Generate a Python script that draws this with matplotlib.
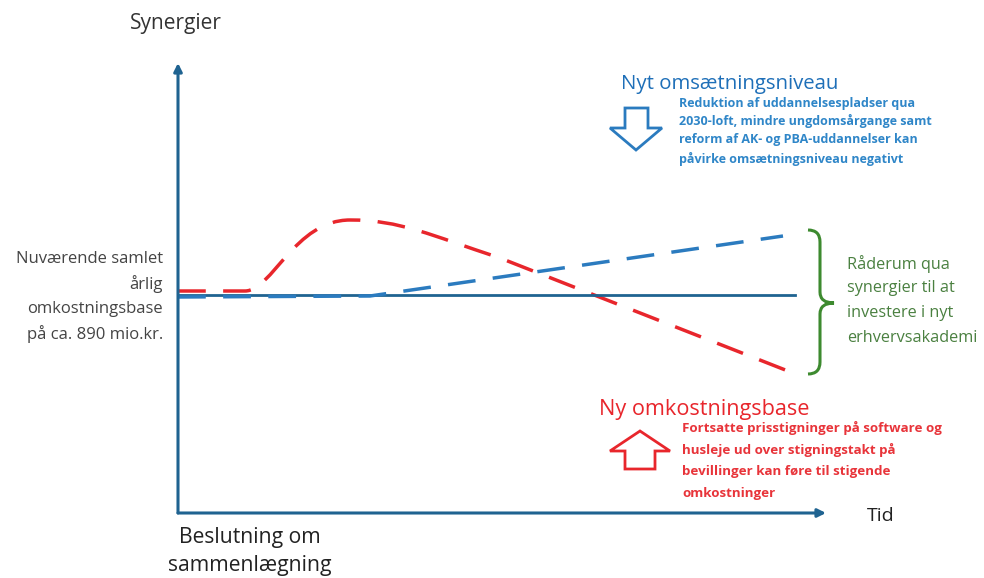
import matplotlib.pyplot as plt
from matplotlib.path import Path
from matplotlib.patches import PathPatch, Polygon

# canvas in pixel units (y grows downwards)
W, H = 984, 578

# axes of the diagram
origin = (178, 513)
y_axis_top = 63
x_axis_end = 826
baseline_y = 295
baseline_end = 795

# blue dashed line: new turnover level
blue_x = [178, 370, 783]
blue_y = [297, 296, 236]

# red dashed curve: new cost base (bezier control points)
red_pts = [(178, 291), (245, 291),
           (272, 291), (295, 220), (350, 220),
           (400, 220), (430, 235), (500, 258),
           (793, 373)]
red_codes = [Path.MOVETO, Path.LINETO,
             Path.CURVE4, Path.CURVE4, Path.CURVE4,
             Path.CURVE4, Path.CURVE4, Path.CURVE4,
             Path.LINETO]

left_label = ["Nuværende samlet", "årlig", "omkostningsbase", "på ca. 890 mio.kr."]
blue_title = "Nyt omsætningsniveau"
blue_body = ["Reduktion af uddannelsespladser qua",
             "2030-loft, mindre ungdomsårgange samt",
             "reform af AK- og PBA-uddannelser kan",
             "påvirke omsætningsniveau negativt"]
red_title = "Ny omkostningsbase"
red_body = ["Fortsatte prisstigninger på software og",
            "husleje ud over stigningstakt på",
            "bevillinger kan føre til stigende",
            "omkostninger"]
green_body = ["Råderum qua", "synergier til at", "investere i nyt", "erhvervsakademi"]

AXIS_C = "#1f6391"
BLUE_C = "#2b7bbf"
RED_C = "#e8262c"
GREEN_C = "#3d8a2f"

plt.rcParams['font.family'] = ['Open Sans', 'DejaVu Sans']

fig = plt.figure(figsize=(W / 100, H / 100), dpi=100)
ax = fig.add_axes([0, 0, 1, 1])
ax.set_xlim(0, W)
ax.set_ylim(H, 0)
ax.axis('off')

# axes arrows
ax.annotate('', xy=(origin[0], y_axis_top), xytext=origin,
            arrowprops=dict(arrowstyle='-|>', color=AXIS_C, lw=2.2,
                            mutation_scale=12, shrinkA=0, shrinkB=0))
ax.annotate('', xy=(x_axis_end, origin[1]), xytext=origin,
            arrowprops=dict(arrowstyle='-|>', color=AXIS_C, lw=2.2,
                            mutation_scale=12, shrinkA=0, shrinkB=0))

# current cost base
ax.plot([origin[0], baseline_end], [baseline_y, baseline_y], color=AXIS_C, lw=2)

# dashed curves
ax.plot(blue_x, blue_y, color=BLUE_C, lw=2.5, dashes=(8, 5))
ax.add_patch(PathPatch(Path(red_pts, red_codes), fill=False, edgecolor=RED_C,
                       lw=2.5, linestyle=(0, (8, 5))))

# green curly bracket
br = [(808, 230), (820, 230), (820, 242), (820, 292), (820, 303), (834, 303),
      (820, 303), (820, 314), (820, 362), (820, 374), (808, 374)]
br_codes = [Path.MOVETO, Path.CURVE3, Path.CURVE3, Path.LINETO, Path.CURVE3, Path.CURVE3,
            Path.CURVE3, Path.CURVE3, Path.LINETO, Path.CURVE3, Path.CURVE3]
ax.add_patch(PathPatch(Path(br, br_codes), fill=False, edgecolor=GREEN_C, lw=2.2))

# block arrows
down = [(625, 108), (648, 108), (648, 128), (662, 128), (636, 150), (610, 128), (625, 128)]
ax.add_patch(Polygon(down, closed=True, facecolor='white', edgecolor=BLUE_C, lw=2))
up = [(640, 431), (670, 451), (655, 451), (655, 469), (625, 469), (625, 451), (610, 451)]
ax.add_patch(Polygon(up, closed=True, facecolor='white', edgecolor=RED_C, lw=2))

# texts
ax.text(176, 23, "Synergier", ha='center', va='center', fontsize=15, color='#333333')
for i, s in enumerate(left_label):
    ax.text(163, 259 + i * 25, s, ha='right', va='center', fontsize=12, color='#444444')

ax.text(621, 84, blue_title, ha='left', va='center', fontsize=14.7, color="#1e6fb8")
for i, s in enumerate(blue_body):
    ax.text(679, 103 + i * 18.5, s, ha='left', va='center', fontsize=9,
            color="#2f86c8", fontweight='bold')

ax.text(599, 409, red_title, ha='left', va='center', fontsize=15.6, color=RED_C)
for i, s in enumerate(red_body):
    ax.text(682, 428 + i * 21.7, s, ha='left', va='center', fontsize=9.6,
            color="#e8343a", fontweight='bold')

for i, s in enumerate(green_body):
    ax.text(847, 264 + i * 24.5, s, ha='left', va='center', fontsize=11.7, color="#4a8040")

ax.text(867, 516, "Tid", ha='left', va='center', fontsize=14, color='#222222')
ax.text(250, 537, "Beslutning om", ha='center', va='center', fontsize=15.2, color='#222222')
ax.text(250, 565, "sammenlægning", ha='center', va='center', fontsize=15.2, color='#222222')

fig.savefig("out.png", dpi=100)
